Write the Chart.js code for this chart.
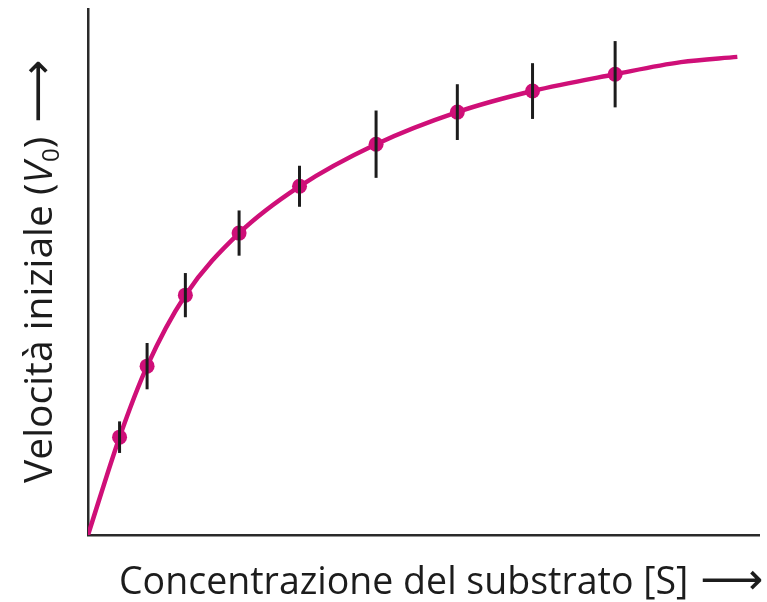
<!DOCTYPE html>
<html>
<head>
<meta charset="utf-8">
<script src="https://cdn.jsdelivr.net/npm/chart.js@4/dist/chart.umd.min.js"></script>
<style>
  html, body { margin: 0; padding: 0; background: #ffffff; }
  #wrap { width: 767px; height: 602px; position: relative; }
</style>
</head>
<body>
<div id="wrap"><canvas id="c"></canvas></div>
<script>
// Substrate concentration [S] of each measurement (arbitrary units)
const substrate = [0.47, 0.88, 1.45, 2.25, 3.15, 4.29, 5.50, 6.62, 7.85];
// Measured initial velocity V0 (arbitrary units)
const velocity = [1.86, 3.21, 4.56, 5.74, 6.63, 7.43, 8.04, 8.44, 8.76];
// Half-length of each error bar
const errorHalf = [0.30, 0.44, 0.42, 0.43, 0.39, 0.64, 0.53, 0.53, 0.63];
// Saturation curve drawn through the data
const curveS = [0, 0.47, 0.88, 1.45, 2.25, 3.15, 4.29, 5.50, 6.62, 7.85, 8.83, 9.67];
const curveV = [0, 1.86, 3.21, 4.56, 5.74, 6.63, 7.43, 8.04, 8.44, 8.76, 8.99, 9.09];

const PINK = '#cf0f78';
const INK = '#1c1c1c';
const FONT = '"Open Sans", "DejaVu Sans", sans-serif';

const errorBars = {
  id: 'errorBars',
  afterDatasetsDraw(chart) {
    const { ctx, scales: { x, y } } = chart;
    ctx.save();
    ctx.strokeStyle = INK;
    ctx.lineWidth = 3;
    ctx.lineCap = 'butt';
    substrate.forEach((s, i) => {
      const px = x.getPixelForValue(s);
      ctx.beginPath();
      ctx.moveTo(px, y.getPixelForValue(velocity[i] + errorHalf[i]));
      ctx.lineTo(px, y.getPixelForValue(velocity[i] - errorHalf[i]));
      ctx.stroke();
    });
    ctx.restore();
  }
};

// Axis titles with italic symbol, subscript and a long arrow
const axisTitles = {
  id: 'axisTitles',
  afterDraw(chart) {
    const { ctx } = chart;
    const arrowFont = `44px "DejaVu Sans", sans-serif`;
    ctx.save();
    ctx.fillStyle = INK;
    ctx.textBaseline = 'alphabetic';

    // x title
    const xs = 37.5;
    const xParts = [
      { t: 'Concentrazione del substrato [S]', f: `${xs}px ${FONT}` },
      { gap: 12 },
      { t: '\u27F6', f: arrowFont }
    ];
    drawRun(ctx, xParts, 119, 594);

    // y title, rotated
    const ys = 39;
    ctx.translate(52, 483);
    ctx.rotate(-Math.PI / 2);
    const yParts = [
      { t: 'Velocità iniziale (', f: `${ys}px ${FONT}` },
      { t: 'V', f: `italic ${ys}px ${FONT}` },
      { t: '0', f: `${Math.round(ys * 0.62)}px ${FONT}`, dy: 7 },
      { t: ')', f: `${ys}px ${FONT}` },
      { gap: 14 },
      { t: '\u27F6', f: arrowFont }
    ];
    drawRun(ctx, yParts, 0, 0);
    ctx.restore();
  }
};

function drawRun(ctx, parts, x0, y0) {
  let x = x0;
  parts.forEach(p => {
    if (p.gap) { x += p.gap; return; }
    ctx.font = p.f;
    ctx.fillText(p.t, x, y0 + (p.dy || 0));
    x += ctx.measureText(p.t).width;
  });
}

new Chart(document.getElementById('c'), {
  type: 'scatter',
  data: {
    datasets: [
      {
        type: 'line',
        data: curveS.map((s, i) => ({ x: s, y: curveV[i] })),
        borderColor: PINK,
        borderWidth: 4.5,
        pointRadius: 0,
        cubicInterpolationMode: 'monotone',
        fill: false,
        order: 2
      },
      {
        data: substrate.map((s, i) => ({ x: s, y: velocity[i] })),
        backgroundColor: PINK,
        borderWidth: 0,
        pointRadius: 7.5,
        order: 1
      }
    ]
  },
  options: {
    responsive: true,
    maintainAspectRatio: false,
    animation: false,
    layout: { padding: { left: 80, right: 5, top: 9, bottom: 59 } },
    plugins: { legend: { display: false }, tooltip: { enabled: false } },
    scales: {
      x: {
        type: 'linear', min: 0, max: 10,
        ticks: { display: false },
        grid: { display: false },
        border: { display: true, color: '#2a2a2a', width: 2.5 }
      },
      y: {
        type: 'linear', min: 0, max: 10,
        ticks: { display: false },
        grid: { display: false },
        border: { display: true, color: '#2a2a2a', width: 2.5 }
      }
    }
  },
  plugins: [errorBars, axisTitles]
});
</script>
</body>
</html>
